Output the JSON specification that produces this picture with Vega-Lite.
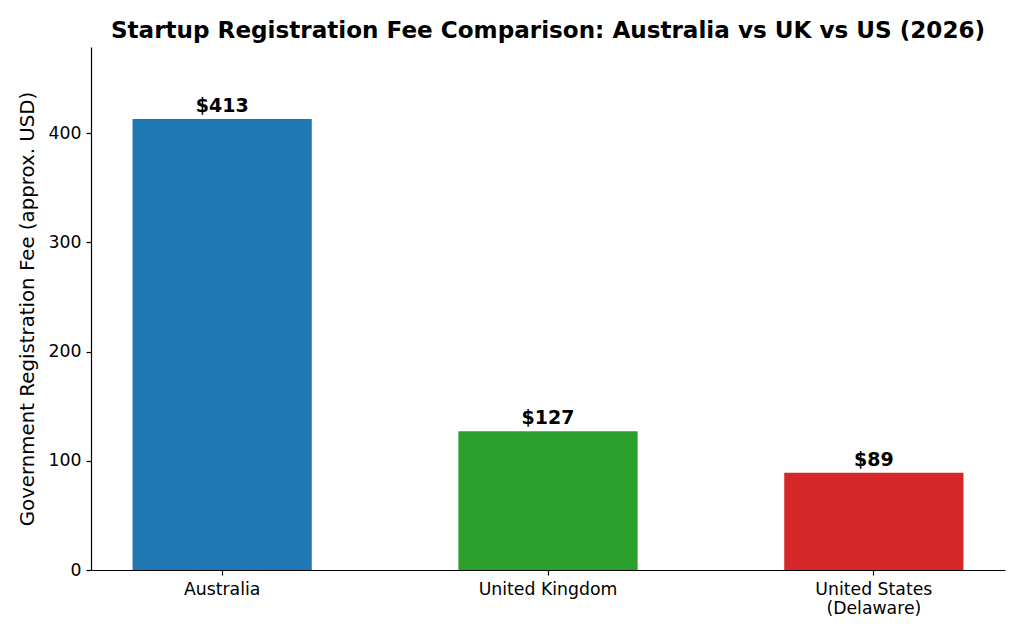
{
  "$schema": "https://vega.github.io/schema/vega-lite/v6.json",
  "autosize": {"type": "none"},
  "width": 914,
  "height": 523,
  "padding": {"left": 91, "top": 47, "right": 19, "bottom": 70},
  "background": "white",
  "config": {
    "view": {"stroke": null},
    "font": "DejaVu Sans",
    "axis": {"labelFont": "DejaVu Sans", "titleFont": "DejaVu Sans", "labelColor": "black", "titleColor": "black", "domainColor": "black", "tickColor": "black", "grid": false, "tickSize": 5, "domainWidth": 1.2, "tickWidth": 1.2}
  },
  "title": {"text": "Startup Registration Fee Comparison: Australia vs UK vs US (2026)", "font": "DejaVu Sans", "fontSize": 23.1, "fontWeight": "bold", "color": "black", "anchor": "middle", "offset": 4},
  "data": {"values": [
    {"country": "Australia", "fee": 413, "label": "$413"},
    {"country": "United Kingdom", "fee": 127, "label": "$127"},
    {"country": "United States\n(Delaware)", "fee": 89, "label": "$89"}
  ]},
  "encoding": {
    "x": {"field": "country", "type": "nominal", "sort": null,
      "scale": {"paddingInner": 0.45, "paddingOuter": 0.1275},
      "axis": {"title": null, "labelAngle": 0, "labelFontSize": 17.3, "labelExpr": "split(datum.label, '\\n')", "labelPadding": 5, "labelLineHeight": 19}},
    "y": {"field": "fee", "type": "quantitative",
      "scale": {"domain": [0, 479], "nice": false},
      "axis": {"title": "Government Registration Fee (approx. USD)", "titleFontSize": 19.8, "titleFontWeight": "normal", "labelFontSize": 17.3, "values": [0, 100, 200, 300, 400], "titlePadding": 11, "labelPadding": 5}}
  },
  "layer": [
    {"mark": {"type": "bar"},
     "encoding": {"color": {"field": "country", "type": "nominal", "sort": null, "scale": {"range": ["#1f77b4", "#2ca02c", "#d62728"]}, "legend": null}}},
    {"mark": {"type": "text", "baseline": "alphabetic", "dy": -7, "fontSize": 19, "fontWeight": "bold", "color": "black", "font": "DejaVu Sans"},
     "encoding": {"text": {"field": "label"}}}
  ]
}
